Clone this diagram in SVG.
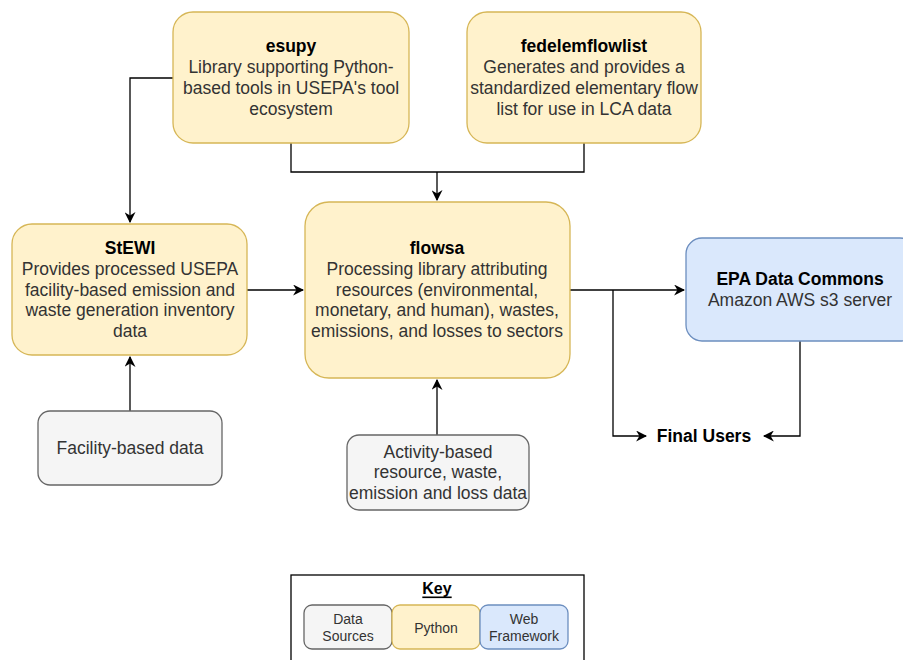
<svg xmlns="http://www.w3.org/2000/svg" width="903" height="660" viewBox="0 0 903 660">
<defs>
<marker id="arr" viewBox="0 0 10 10" refX="9" refY="5" markerWidth="11" markerHeight="11" markerUnits="userSpaceOnUse" orient="auto">
<path d="M0,0 L10,5 L0,10 L3,5 Z" fill="#000"/>
</marker>
<style>
.py{fill:#fff2cc;stroke:#d6b656;stroke-width:1.3}
.ds{fill:#f5f5f5;stroke:#666666;stroke-width:1.3}
.wf{fill:#dae8fc;stroke:#6c8ebf;stroke-width:1.3}
text{font-family:"Liberation Sans",Arial,Helvetica,sans-serif;font-size:17.5px;text-anchor:middle;dominant-baseline:central;fill:#333333}
.t{font-weight:bold;fill:#000}
.k{font-size:14px}
.c{fill:none;stroke:#000;stroke-width:1.3}
</style>
</defs>
<rect width="903" height="660" fill="#fff"/>
<g id="connectors">
<path class="c" d="M173,78 H130 V222" marker-end="url(#arr)"/>
<path class="c" d="M291,143 V172 H584 V143"/>
<path class="c" d="M437,172 V200" marker-end="url(#arr)"/>
<path class="c" d="M247,290 H303" marker-end="url(#arr)"/>
<path class="c" d="M130,411 V357" marker-end="url(#arr)"/>
<path class="c" d="M437,435 V380" marker-end="url(#arr)"/>
<path class="c" d="M570,290 H684" marker-end="url(#arr)"/>
<path class="c" d="M613,290 V436 H646" marker-end="url(#arr)"/>
<path class="c" d="M800,341 V436 H764" marker-end="url(#arr)"/>
</g>
<g id="esupy">
<rect class="py" x="173" y="12" width="236" height="131" rx="20"/>
<text class="t" x="291" y="46">esupy</text>
<text x="291" y="67">Library supporting Python-</text>
<text x="291" y="88">based tools in USEPA's tool</text>
<text x="291" y="109">ecosystem</text>
</g>
<g id="fedelemflowlist">
<rect class="py" x="467" y="12" width="234" height="131" rx="20"/>
<text class="t" x="584" y="46">fedelemflowlist</text>
<text x="584" y="67">Generates and provides a</text>
<text x="584" y="88">standardized elementary flow</text>
<text x="584" y="109">list for use in LCA data</text>
</g>
<g id="stewi">
<rect class="py" x="12" y="224" width="235" height="131" rx="20"/>
<text class="t" x="130" y="248">StEWI</text>
<text x="130" y="269">Provides processed USEPA</text>
<text x="130" y="290">facility-based emission and</text>
<text x="130" y="310">waste generation inventory</text>
<text x="130" y="331">data</text>
</g>
<g id="flowsa">
<rect class="py" x="305" y="202" width="265" height="176" rx="24"/>
<text class="t" x="437" y="248">flowsa</text>
<text x="437" y="269">Processing library attributing</text>
<text x="437" y="290">resources (environmental,</text>
<text x="437" y="310">monetary, and human), wastes,</text>
<text x="437" y="331">emissions, and losses to sectors</text>
</g>
<g id="epa">
<rect class="wf" x="686" y="238" width="230" height="103" rx="16"/>
<text class="t" x="800" y="279">EPA Data Commons</text>
<text x="800" y="300">Amazon AWS s3 server</text>
</g>
<g id="finalusers">
<text class="t" x="704" y="436">Final Users</text>
</g>
<g id="facility">
<rect class="ds" x="38" y="411" width="184" height="74" rx="12"/>
<text x="130" y="448">Facility-based data</text>
</g>
<g id="activity">
<rect class="ds" x="347" y="435" width="182" height="75" rx="12"/>
<text x="438" y="452">Activity-based</text>
<text x="438" y="472">resource, waste,</text>
<text x="438" y="493">emission and loss data</text>
</g>
<g id="key">
<rect x="291" y="575" width="293" height="100" fill="#fff" stroke="#000" stroke-width="1.3"/>
<text class="t" x="437" y="588" style="font-size:16px" text-decoration="underline">Key</text>
<rect class="ds" x="304" y="605" width="88" height="44" rx="8"/>
<text class="k" x="348" y="619">Data</text>
<text class="k" x="348" y="636">Sources</text>
<rect class="py" x="392" y="605" width="88" height="44" rx="8"/>
<text class="k" x="436" y="628">Python</text>
<rect class="wf" x="480" y="605" width="88" height="44" rx="8"/>
<text class="k" x="524" y="619">Web</text>
<text class="k" x="524" y="636">Framework</text>
</g>
</svg>
